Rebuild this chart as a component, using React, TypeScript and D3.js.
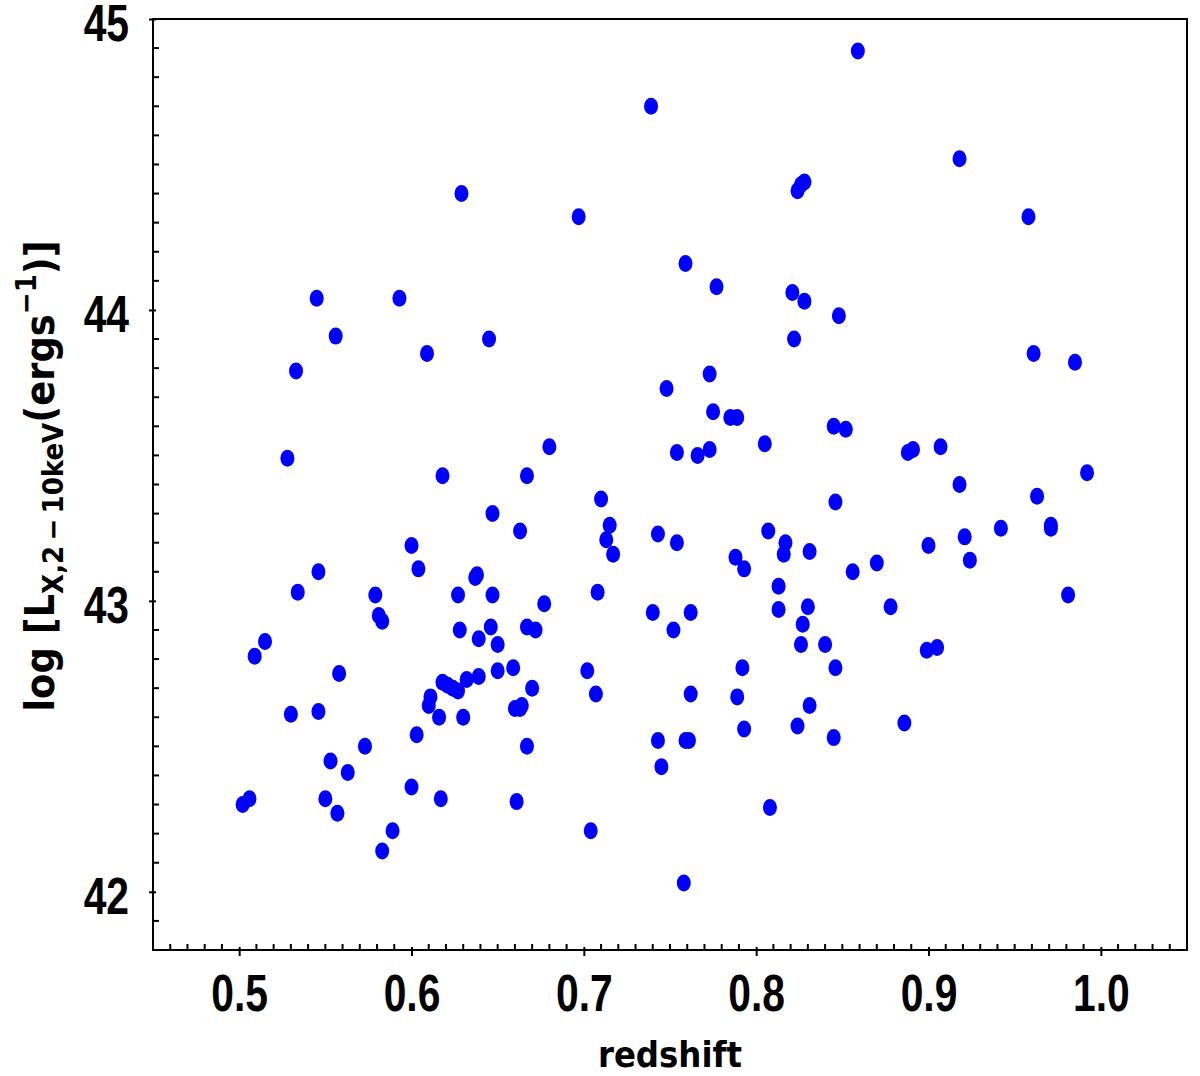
import { useEffect, useRef } from 'react'
import * as d3 from 'd3'

// redshift of each source
const redshift = [
  0.502, 0.506, 0.509, 0.515, 0.528, 0.53, 0.533, 0.534, 0.545, 0.546, 0.546, 0.55, 0.553, 0.556, 0.557,
  0.558, 0.563, 0.573, 0.579, 0.581, 0.583, 0.583, 0.589, 0.593, 0.6, 0.6, 0.603, 0.604, 0.609, 0.61,
  0.611, 0.616, 0.617, 0.618, 0.618, 0.621, 0.624, 0.627, 0.629, 0.627, 0.628, 0.63, 0.632, 0.637, 0.638,
  0.639, 0.639, 0.645, 0.646, 0.647, 0.647, 0.65, 0.65, 0.659, 0.66, 0.663, 0.661, 0.663, 0.664, 0.667,
  0.667, 0.667, 0.67, 0.672, 0.677, 0.68, 0.697, 0.702, 0.704, 0.707, 0.708, 0.71, 0.713, 0.715, 0.717,
  0.739, 0.74, 0.743, 0.743, 0.745, 0.748, 0.752, 0.754, 0.754, 0.758, 0.759, 0.761, 0.759, 0.762, 0.762,
  0.766, 0.773, 0.773, 0.775, 0.777, 0.785, 0.789, 0.788, 0.789, 0.792, 0.793, 0.793, 0.805, 0.807, 0.808,
  0.813, 0.813, 0.816, 0.817, 0.821, 0.822, 0.824, 0.826, 0.828, 0.824, 0.826, 0.827, 0.828, 0.83, 0.831,
  0.831, 0.84, 0.845, 0.845, 0.846, 0.846, 0.848, 0.852, 0.856, 0.859, 0.87, 0.878, 0.886, 0.888, 0.891,
  0.899, 0.9, 0.905, 0.907, 0.918, 0.918, 0.921, 0.924, 0.942, 0.958, 0.961, 0.963, 0.971, 0.971, 0.981,
  0.985, 0.992,
]

// log L_X (2-10 keV)
const logLx = [
  42.3, 42.32, 42.81, 42.86, 43.49, 42.61, 43.79, 43.03, 44.04, 43.1, 42.62, 42.32, 42.45, 43.91, 42.27,
  42.75, 42.41, 42.5, 43.02, 42.95, 42.93, 42.14, 42.21, 44.04, 42.36, 43.19, 42.54, 43.11, 43.85, 42.64,
  42.67, 42.6, 42.32, 43.43, 42.72, 42.71, 42.7, 42.69, 44.4, 43.02, 42.9, 42.6, 42.73, 43.08, 43.09,
  42.87, 42.74, 43.9, 42.91, 43.3, 43.02, 42.85, 42.76, 42.77, 42.63, 42.63, 42.31, 43.24, 42.64, 43.43,
  42.91, 42.5, 42.7, 42.9, 42.99, 43.53, 44.32, 42.76, 42.21, 42.68, 43.03, 43.35, 43.21, 43.26, 43.16,
  44.7, 42.96, 43.23, 42.52, 42.43, 43.73, 42.9, 43.2, 43.51, 42.03, 42.52, 42.52, 44.16, 42.96, 42.68,
  43.5, 43.52, 43.78, 43.65, 44.08, 43.63, 43.63, 43.15, 42.67, 42.77, 43.11, 42.56, 43.54, 43.24, 42.29,
  43.05, 42.97, 43.16, 43.2, 44.06, 43.9, 44.41, 44.43, 44.44, 42.57, 42.85, 42.92, 44.03, 42.98, 42.64,
  43.17, 42.85, 43.6, 42.53, 42.77, 43.34, 43.98, 43.59, 43.1, 44.89, 43.13, 42.98, 42.58, 43.51, 43.52,
  42.83, 43.19, 42.84, 43.53, 43.4, 44.52, 43.22, 43.14, 43.25, 44.32, 43.85, 43.36, 43.26, 43.25, 43.02,
  43.82, 43.44,
]

const xTicks = [0.5, 0.6, 0.7, 0.8, 0.9, 1.0]
const yTicks = [42, 43, 44, 45]

const tickFont = "'Liberation Sans', Arial, sans-serif"
const labelFont = "'DejaVu Sans Condensed', 'DejaVu Sans', sans-serif"

function App() {
  const ref = useRef(null)

  useEffect(() => {
    const width = 1200,
      height = 1076,
      left = 153,
      right = 1187,
      top = 19,
      bottom = 950,
      squeeze = 0.8

    const x = d3.scaleLinear().domain([0.45, 1.05]).range([left, right])
    const y = d3.scaleLinear().domain([41.8, 45]).range([bottom, top])

    const svg = d3.select(ref.current)
    svg.selectAll('*').remove()
    svg.attr('width', width).attr('height', height)

    svg.append('rect').attr('width', width).attr('height', height).attr('fill', 'white')

    // points
    svg
      .append('g')
      .selectAll('ellipse')
      .data(redshift.map((z, i) => ({ z, l: logLx[i] })))
      .enter()
      .append('ellipse')
      .attr('cx', (d) => x(d.z))
      .attr('cy', (d) => y(d.l))
      .attr('rx', 7)
      .attr('ry', 8.5)
      .attr('fill', '#0000ff')

    // minor ticks (inside)
    const xMinor = d3.range(46, 105).map((v) => v / 100).filter((v) => Math.round(v * 100) % 10 !== 0)
    const yMinor = d3.range(419, 450).map((v) => v / 10).filter((v) => Math.round(v * 10) % 10 !== 0)

    svg
      .append('g')
      .selectAll('line')
      .data(xMinor)
      .enter()
      .append('line')
      .attr('x1', (d) => x(d))
      .attr('x2', (d) => x(d))
      .attr('y1', bottom)
      .attr('y2', bottom - 6)
      .attr('stroke', 'black')
      .attr('stroke-width', 2)

    svg
      .append('g')
      .selectAll('line')
      .data(yMinor)
      .enter()
      .append('line')
      .attr('y1', (d) => y(d))
      .attr('y2', (d) => y(d))
      .attr('x1', left)
      .attr('x2', left + 6)
      .attr('stroke', 'black')
      .attr('stroke-width', 2)

    // major axes
    const xAxis = d3
      .axisBottom(x)
      .tickValues(xTicks)
      .tickSize(6)
      .tickPadding(19)
      .tickFormat(d3.format('.1f'))

    const yAxis = d3.axisLeft(y).tickValues(yTicks).tickSize(4).tickPadding(20).tickFormat(d3.format('d'))

    const gx = svg.append('g').attr('transform', 'translate(0,' + bottom + ')').call(xAxis)
    const gy = svg.append('g').attr('transform', 'translate(' + left + ',0)').call(yAxis)

    ;[gx, gy].forEach((g) => {
      g.select('.domain').remove()
      g.selectAll('.tick line').attr('stroke', 'black').attr('stroke-width', 2)
      g.selectAll('.tick text')
        .attr('fill', 'black')
        .style('font-family', tickFont)
        .style('font-weight', 'bold')
        .style('font-size', '51px')
    })
    gx.selectAll('.tick line').attr('y1', -3)
    gx.selectAll('.tick text').attr('transform', 'scale(' + squeeze + ',1)')
    gy.selectAll('.tick line').attr('x1', 3)
    gy.selectAll('.tick text')
      .attr('x', -24 / squeeze)
      .attr('dy', '0.42em')
      .attr('transform', 'scale(' + squeeze + ',1)')

    // frame
    svg
      .append('rect')
      .attr('x', left)
      .attr('y', top)
      .attr('width', right - left)
      .attr('height', bottom - top)
      .attr('fill', 'none')
      .attr('stroke', 'black')
      .attr('stroke-width', 2)

    // axis titles
    svg
      .append('text')
      .attr('x', (left + right) / 2)
      .attr('y', 1067)
      .attr('text-anchor', 'middle')
      .style('font-family', labelFont)
      .style('font-stretch', 'condensed')
      .style('font-weight', 'bold')
      .style('font-size', '36px')
      .text('redshift')

    const yl = svg
      .append('text')
      .attr('transform', 'translate(54,' + 476 + ') rotate(-90)')
      .attr('text-anchor', 'middle')
      .style('font-family', labelFont)
      .style('font-stretch', 'condensed')
      .style('font-weight', 'bold')
      .style('font-size', '41px')

    yl.append('tspan').text('log [L')
    yl.append('tspan').attr('dy', 9).style('font-size', '29px').text('X,2\u2009\u2212\u200910keV')
    yl.append('tspan').attr('dy', -9).text('(ergs')
    yl.append('tspan').attr('dy', -18).style('font-size', '29px').text('\u22121')
    yl.append('tspan').attr('dy', 18).text(')]')
  })

  return <svg ref={ref} style={{ position: 'absolute', left: 0, top: 0 }}></svg>
}

export default App
